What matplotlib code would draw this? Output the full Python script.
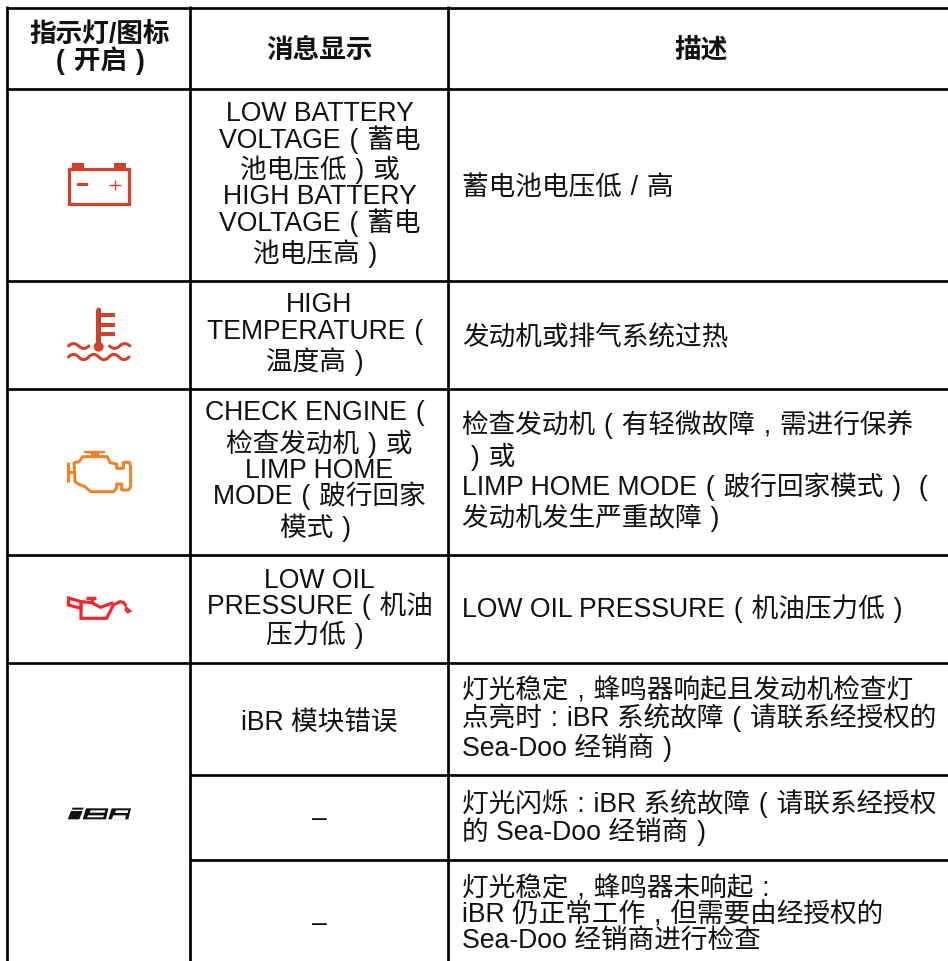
import matplotlib
matplotlib.use("Agg")
import matplotlib.pyplot as plt
from matplotlib.patches import Polygon, Rectangle, Circle, PathPatch
from matplotlib.path import Path

FONTS = ['Liberation Sans', 'Noto Sans CJK SC']
W, H = 948, 961

# ---- table content ----
headers = [["指示灯/图标", "（开启）"], ["消息显示"], ["描述"]]
message_cells = [
    ["LOW BATTERY", "VOLTAGE（蓄电", "池电压低）或", "HIGH BATTERY", "VOLTAGE（蓄电", "池电压高）"],
    ["HIGH", "TEMPERATURE（", "温度高）"],
    ["CHECK ENGINE（", "检查发动机）或", "LIMP HOME", "MODE（跛行回家", "模式）"],
    ["LOW OIL", "PRESSURE（机油", "压力低）"],
    ["iBR 模块错误"],
    ["–"],
    ["–"],
]
description_cells = [
    ["蓄电池电压低 / 高"],
    ["发动机或排气系统过热"],
    ["检查发动机（有轻微故障，需进行保养", "）或", "LIMP HOME MODE（跛行回家模式）（", "发动机发生严重故障）"],
    ["LOW OIL PRESSURE（机油压力低）"],
    ["灯光稳定，蜂鸣器响起且发动机检查灯", "点亮时：iBR 系统故障（请联系经授权的", "Sea-Doo 经销商）"],
    ["灯光闪烁：iBR 系统故障（请联系经授权", "的 Sea-Doo 经销商）"],
    ["灯光稳定，蜂鸣器未响起：", "iBR 仍正常工作，但需要由经授权的", "Sea-Doo 经销商进行检查"],
]

# ---- layout (pixels) ----
col_lines = [7.5, 190.5, 448.5]
row_lines = [7.5, 88.5, 280.5, 388.5, 554.5, 662.5]
sub_row_lines = [774.5, 859.5]
header_base = [[42, 69], [58], [58]]
header_x = [100, 319.5, 701]
msg_base = [
    [121, 148, 178, 204, 231, 262],
    [312, 339, 370],
    [420, 452, 478, 504, 536],
    [588, 614, 643],
    [730],
    [826],
    [931],
]
desc_base = [
    [195], [345], [433, 465, 495, 526], [617],
    [699, 726, 756], [812, 840], [896, 923, 949],
]
MSG_X, DESC_X = 319.5, 462
FS = 19.2
LW = 2.7 * 0.72

SP = "\u2004"
def fmt(s):
    for a, b in (("（", "("), ("）", ")"), ("，", ","), ("：", ":")):
        s = s.replace(a, SP + b + SP)
    return s.replace(" / ", SP + "/" + SP)

fig = plt.figure(figsize=(W / 100, H / 100), dpi=100)
ax = fig.add_axes([0, 0, 1, 1])
ax.set_xlim(0, W)
ax.set_ylim(H, 0)
ax.axis("off")

# grid
for x in col_lines:
    ax.plot([x, x], [6.2, H], color="k", lw=LW, solid_capstyle="butt")
for y in row_lines:
    ax.plot([col_lines[0] - 1.3, W], [y, y], color="k", lw=LW, solid_capstyle="butt")
for y in sub_row_lines:
    ax.plot([col_lines[1], W], [y, y], color="k", lw=LW, solid_capstyle="butt")

# text
def put(x, y, s, ha="left", bold=False):
    ax.text(x, y, fmt(s), ha=ha, va="baseline", fontsize=FS, family=FONTS,
            fontweight="bold" if bold else "normal", color="#111111")

for lines, bases, x in zip(headers, header_base, header_x):
    for s, y in zip(lines, bases):
        put(x, y, s, ha="center", bold=True)
for lines, bases in zip(message_cells, msg_base):
    for s, y in zip(lines, bases):
        put(MSG_X, y, s, ha="center")
for lines, bases in zip(description_cells, desc_base):
    for s, y in zip(lines, bases):
        put(DESC_X, y, s)

# icons: outlines traced in 3x zoom pixels, with an offset
def tx(pts, oy):
    return [(x / 3, oy + y / 3) for x, y in pts]

def poly(pts, color, lw=3.0, closed=False, fill=False, join="miter"):
    ax.add_patch(Polygon(pts, closed=closed, fill=fill, facecolor=color if fill else "none",
                         edgecolor=color, lw=lw * 0.72, joinstyle=join))

RED = "#d2402a"
ORANGE = "#ee8226"
OIL = "#ee2a30"

# battery
ax.add_patch(Rectangle((69, 169), 60.4, 35, fill=False, edgecolor=RED, lw=3.2 * 0.72))
ax.add_patch(Rectangle((72, 163), 12, 5, color=RED, lw=0))
ax.add_patch(Rectangle((114, 163), 12, 5, color=RED, lw=0))
ax.add_patch(Rectangle((77, 183), 11, 3, color=RED, lw=0))
poly([(109.5, 185), (121, 185)], RED, lw=1.4)
poly([(115, 179.5), (115, 190)], RED, lw=1.4)

# thermometer
ax.add_patch(Rectangle((96.3, 310), 4.8, 36, color=RED, lw=0))
ax.add_patch(Circle((98.7, 310), 2.4, color=RED, lw=0))
ax.add_patch(Circle((98.7, 346.7), 5, color=RED, lw=0))
for y in (315, 324.7, 334.3):
    ax.add_patch(Rectangle((98.7, y - 1.9), 16.3, 3.8, color=RED, lw=0))

def wave(x0, y0, step, n, amp, first=-1):
    verts, codes = [(x0, y0)], [Path.MOVETO]
    s = first
    for i in range(n):
        verts += [(x0 + (i + 0.5) * step, y0 + s * amp), (x0 + (i + 1) * step, y0)]
        codes += [Path.CURVE3, Path.CURVE3]
        s = -s
    ax.add_patch(PathPatch(Path(verts, codes), fill=False, edgecolor=RED, lw=3.0 * 0.72,
                           capstyle="round"))

wave(68.5, 346, 10.2, 2, 5)
wave(109.5, 346, 10.2, 2, 5, first=1)
wave(68.5, 357, 10.1, 6, 5.5)

# engine
body = [(222, 548), (238, 545), (248, 530), (322, 530), (330, 548), (350, 552), (350, 565),
        (370, 565), (370, 547), (388, 547), (392, 560), (392, 620), (385, 630), (365, 630),
        (365, 612), (350, 612), (350, 625), (340, 635), (272, 635), (255, 620), (235, 612),
        (225, 605)]
poly(tx(body, 280), ORANGE, closed=True, join="round")
poly(tx([(207, 575), (222, 575)], 280), ORANGE)
poly(tx([(205, 545), (205, 605)], 280), ORANGE)
poly(tx([(252, 515), (316, 515)], 280), ORANGE, lw=2.4)
ax.add_patch(Polygon(tx([(270, 515), (300, 515), (296, 530), (274, 530)], 280), color=ORANGE, lw=0))

# oil can
poly(tx([(206, 114), (243, 125), (243, 145), (205, 135)], 560), OIL, closed=True, lw=3.2)
poly(tx([(243, 130), (243, 175), (320, 175), (340, 135), (360, 125), (370, 127), (379, 138)], 560), OIL, lw=3.2)
poly(tx([(243, 125), (275, 128), (302, 142), (340, 128)], 560), OIL, lw=3.2)
poly(tx([(275, 115), (275, 128)], 560), OIL, lw=3.2)
poly(tx([(258, 115), (288, 115)], 560), OIL, lw=3.4)
poly(tx([(378, 142), (391, 153), (383, 157), (377, 150)], 560), OIL, closed=True, lw=2.2)

# iBR logo
K = "#111111"
ax.add_patch(Polygon(tx([(218, 743), (251, 743), (248, 749), (215, 749)], 560), color=K, lw=0))
ax.add_patch(Polygon(tx([(213, 753), (248, 753), (238, 778), (203, 778)], 560), color=K, lw=0))
ax.add_patch(Polygon(tx([(258, 745), (325, 745), (318, 778), (248, 778)], 560), color=K, lw=0))
ax.add_patch(Polygon(tx([(272, 751), (316, 751), (314, 758), (269, 758)], 560), color="white", lw=0))
ax.add_patch(Polygon(tx([(264, 766), (312, 766), (310, 772), (261, 772)], 560), color="white", lw=0))
ax.add_patch(Polygon(tx([(335, 745), (393, 745), (385, 778), (325, 778)], 560), color=K, lw=0))
ax.add_patch(Polygon(tx([(348, 751), (385, 751), (383, 759), (345, 759)], 560), color="white", lw=0))
ax.add_patch(Polygon(tx([(340, 766), (378, 766), (375, 779), (335, 779)], 560), color="white", lw=0))

fig.savefig("out.png", dpi=100, facecolor="white")
